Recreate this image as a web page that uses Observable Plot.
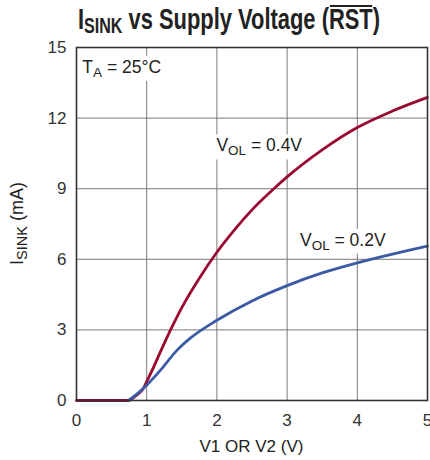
<!DOCTYPE html>
<html><head><meta charset="utf-8">
<script src="https://cdn.jsdelivr.net/npm/d3@7"></script>
<script src="https://cdn.jsdelivr.net/npm/@observablehq/plot@0.6"></script>
<style>
body{margin:0;background:#fff;}
#title{position:relative;height:40px;width:430px;overflow:hidden;color:#222;}
#tt{position:absolute;left:78px;top:2px;font-family:"Liberation Sans Narrow","Liberation Sans",sans-serif;font-weight:bold;font-size:30px;line-height:34px;white-space:nowrap;transform:scaleX(0.73);transform-origin:0 0;}
#tt .sub{font-size:22px;position:relative;top:4px;}
#tt .ov{position:relative;}
#tt .ov::before{content:"";position:absolute;left:1px;right:1px;top:3px;height:2px;background:#222;}
#chart svg{display:block;}
</style></head><body>
<div id="title"><span id="tt">I<span class="sub">SINK</span> vs Supply Voltage (<span class="ov">RST</span>)</span></div>
<div id="chart"></div>
<script>
// Axis ticks
const xTicks = [0, 1, 2, 3, 4, 5];
const yTicks = [0, 3, 6, 9, 12, 15];

// V_OL = 0.4V curve
const redV = [0, 0.5, 0.74, 0.85, 0.95, 1.0, 1.08, 1.2, 1.34, 1.5, 1.75, 2.0, 2.25, 2.5, 2.83, 3.0, 3.5, 4.0, 4.5, 5.0];
const redI = [0, 0, 0, 0.22, 0.5, 0.8, 1.3, 2.1, 3.0, 3.95, 5.2, 6.3, 7.25, 8.1, 9.05, 9.5, 10.65, 11.6, 12.3, 12.88];

// V_OL = 0.2V curve
const blueV = [0.74, 0.85, 1.0, 1.2, 1.43, 1.63, 2.0, 2.48, 3.0, 3.5, 4.0, 4.5, 5.0];
const blueI = [0, 0.25, 0.65, 1.3, 2.13, 2.67, 3.41, 4.2, 4.88, 5.42, 5.85, 6.22, 6.56];

// Text (parts alternate normal / subscript)
const xLabelText = "V1 OR V2 (V)";
const yLabelParts = ["I", "SINK", " (mA)"];
const annParts = [["T", "A", " = 25°C"], ["V", "OL", " = 0.4V"], ["V", "OL", " = 0.2V"]];
const annX = [0.09, 2.0, 3.19];
const annY = [13.9, 10.56, 6.56];

const redData = redV.map((v, i) => ({v, i: redI[i]}));
const blueData = blueV.map((v, i) => ({v, i: blueI[i]}));

const font = '"Liberation Sans", Arial, sans-serif';
const W = 430, H = 420, mT = 7, mR = 3, mB = 60, mL = 76;

const plot = Plot.plot({
  width: W, height: H,
  marginTop: mT, marginRight: mR, marginBottom: mB, marginLeft: mL,
  style: {fontFamily: font, fontSize: "17px", color: "#333", background: "white", overflow: "visible"},
  x: {domain: [0, 5], ticks: xTicks, tickFormat: d => String(d), tickSize: 0, tickPadding: 13, label: null},
  y: {domain: [0, 15], ticks: yTicks, tickFormat: d => String(d), tickSize: 0, tickPadding: 10, label: null},
  marks: [
    Plot.gridX(xTicks.slice(1, -1), {stroke: "#7a7a7a", strokeOpacity: 1, strokeWidth: 1}),
    Plot.gridY(yTicks.slice(1, -1), {stroke: "#7a7a7a", strokeOpacity: 1, strokeWidth: 1}),
    Plot.line(redData, {x: "v", y: "i", stroke: "#9a0a30", strokeWidth: 2.8, curve: "monotone-x"}),
    Plot.line(blueData, {x: "v", y: "i", stroke: "#3b5ba6", strokeWidth: 2.8, curve: "monotone-x"}),
    Plot.frame({stroke: "#333", strokeWidth: 1.6})
  ]
});
document.getElementById("chart").appendChild(plot);

const svg = d3.select(plot);
const xs = plot.scale("x"), ys = plot.scale("y");

function rich(g, x, y, parts, anchor, size, subSize) {
  const t = g.append("text").attr("x", x).attr("y", y).attr("text-anchor", anchor || "start")
    .attr("font-family", font).attr("font-size", size + "px").attr("fill", "#222");
  parts.forEach((p, k) => {
    const ts = t.append("tspan").text(p);
    if (k % 2 === 1) ts.attr("font-size", subSize + "px").attr("dy", 4);
    else if (k > 0) ts.attr("dy", -4);
  });
  return t;
}

// annotations with white boxes
const ag = svg.append("g");
annParts.forEach((parts, k) => {
  const t = rich(ag, xs.apply(annX[k]), ys.apply(annY[k]), parts, "start", 17.5, 13.5);
  const b = t.node().getBBox();
  ag.insert("rect", () => t.node())
    .attr("x", b.x - 2).attr("y", b.y - 1).attr("width", b.width + 4).attr("height", b.height + 2)
    .attr("fill", "white");
});

// x axis title
svg.append("text").attr("x", (mL + W - mR) / 2).attr("y", 412)
  .attr("text-anchor", "middle").attr("font-family", font).attr("font-size", "17px").attr("fill", "#222")
  .text(xLabelText);

// y axis title
rich(svg.append("g").attr("transform", `translate(23,${(mT + H - mB) / 2}) rotate(-90)`), 0, 0, yLabelParts, "middle", 18, 14.5);
</script>
</body></html>
